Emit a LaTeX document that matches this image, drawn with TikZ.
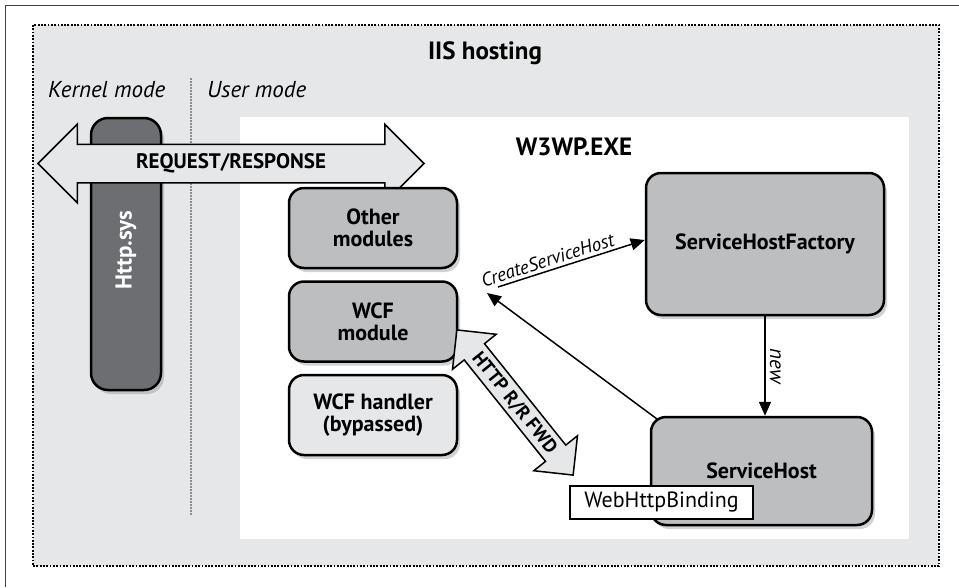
\documentclass[tikz,border=0pt]{standalone}
\usepackage{fontspec}
\setmainfont{PT Sans}
\usepackage{tikz}
\usetikzlibrary{arrows.meta,positioning,shapes.arrows,shadows}

\definecolor{hostgray}{HTML}{E6E7E8}
\definecolor{modgray}{HTML}{BCBEC0}
\definecolor{sysgray}{HTML}{6D6E71}

\begin{document}
\begin{tikzpicture}[x=1pt,y=-1pt]
\tikzstyle{title}=[font=\bfseries\fontsize{25}{27}\selectfont]
\tikzstyle{mode}=[font=\itshape\fontsize{23}{25}\selectfont, inner sep=0pt]
\tikzstyle{modbox}=[rectangle, rounded corners=15pt, draw, line width=2.5pt, fill=modgray, align=center, minimum width=168pt, minimum height=80pt, font=\bfseries\fontsize{22}{22}\selectfont, drop shadow={shadow xshift=3pt, shadow yshift=-4pt, opacity=0.35}]
\tikzstyle{sysbox}=[modbox, fill=sysgray, rounded corners=17pt, minimum width=70pt, minimum height=272pt]
\tikzstyle{binding}=[rectangle, draw, line width=1.5pt, fill=white, minimum width=183pt, minimum height=33pt, inner sep=2pt, font=\fontsize{22}{22}\selectfont]
\tikzstyle{fatarrow}=[double arrow, draw, line width=1.5pt, fill=hostgray, inner xsep=0pt]
\tikzstyle{call}=[line width=1.5pt, -{Triangle[length=14pt,width=12pt]}]

\useasboundingbox (0,0) rectangle (959,587);
% frame and hosting area
\draw[line width=1pt, black!75] (5,587) -- (5,5) -- (959,5);
\draw[line width=1.8pt, dash pattern=on 1.8pt off 1.5pt, fill=hostgray] (33,25) rectangle (939,566);
\fill[white] (240,117) rectangle (909,539);
\draw[line width=1.5pt, black!45, dash pattern=on 1.5pt off 1.5pt] (191,78) -- (191,515);

\node[title] (iis) at (485,53) {IIS hosting};
\node[mode, anchor=base west] (kernel) at (48,97) {Kernel mode};
\node[mode, anchor=base west] (user) at (207,97) {User mode};
\node[title] (w3wp) at (574,147) {W3WP.EXE};

% kernel side
\node[sysbox] (httpsys) at (126,254) {};
\node[rotate=90, white, font=\bfseries\fontsize{23}{23}\selectfont] (httplabel) at (126,250) {Http.sys};
\node[fatarrow, minimum height=386pt, double arrow head extend=20pt, text height=14.5pt, text depth=4pt, inner ysep=9.25pt, font=\bfseries\fontsize{21}{21}\selectfont] (reqresp) at (231,163.5) {REQUEST/RESPONSE};

% modules
\node[modbox] (other) at (373,228) {Other\\modules};
\node[modbox, below=11pt of other] (wcfmod) {WCF\\module};
\node[modbox, fill=hostgray, below=11pt of wcfmod] (wcfhandler) {WCF handler\\(bypassed)};

% service host
\node[modbox, minimum width=238pt, minimum height=142pt] (shf) at (765,244) {ServiceHostFactory};
\node[modbox, minimum width=221pt, minimum height=108pt] (sh) at (761.5,471) {ServiceHost};
\node[binding] (webbinding) at (661.5,502.5) {WebHttpBinding};

\node[fatarrow, rotate=-51.3, minimum height=186pt, double arrow head extend=15pt, text height=13.5pt, text depth=1pt, inner ysep=5pt, font=\bfseries\fontsize{19}{19}\selectfont] (rrfwd) at (515,402.5) {HTTP R/R FWD};

\coordinate (callout) at (498,287);
\coordinate (callback) at (487,293);
\coordinate (shcorner) at (657,419);

\draw[call] (callout) -- node[pos=0.36, sloped, above, inner sep=3pt, font=\itshape\fontsize{19}{19}\selectfont] (createlbl) {CreateServiceHost} ([yshift=4pt]shf.west);
\draw[call] (shf.south) -- node[midway, rotate=-90, anchor=south, inner sep=4pt, font=\itshape\fontsize{21}{21}\selectfont] (newlbl) {new} (shf.south |- sh.north);
\draw[call] (shcorner) -- (callback);
\end{tikzpicture}
\end{document}
